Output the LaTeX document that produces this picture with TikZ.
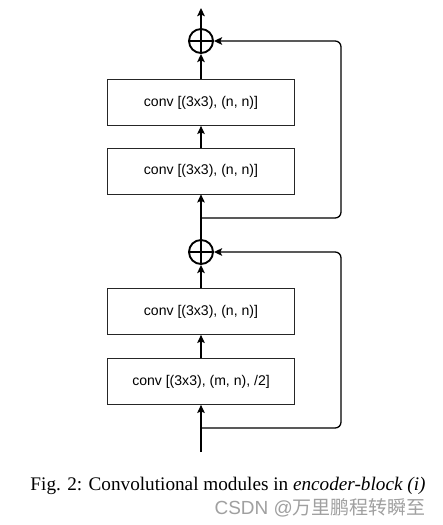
\documentclass[tikz,border=0pt]{standalone}
\usepackage{fontspec}
\setmainfont{Liberation Serif}
\setsansfont{Liberation Sans}
\newfontfamily\cjkfont{Noto Sans CJK SC}
\usepackage{tikz}
\usetikzlibrary{shapes, arrows.meta, positioning, backgrounds}
\definecolor{markgray}{RGB}{160,160,160}
\tikzstyle{block} = [rectangle, minimum width=5.61cm, minimum height=1.38cm, text centered, draw=black!85, line width=0.6pt, fill=white, font=\sffamily\fontsize{12}{14}\selectfont]
\tikzstyle{sum} = [circle, draw=black, line width=1.6pt, minimum size=0.72cm, inner sep=0pt]
\tikzstyle{arrow} = [-{Stealth[length=7pt,width=6.5pt,inset=1.5pt]}, line width=1.1pt]

\begin{document}
\begin{tikzpicture}[x=0.03cm, y=-0.03cm, background rectangle/.style={fill=white}, show background rectangle]

    \useasboundingbox (0,0) rectangle (442,525);

    \node (conv1) [block] at (201, 102.5) {conv [(3x3), (n, n)]};
    \node (conv2) [block] at (201, 171) {conv [(3x3), (n, n)]};
    \node (conv3) [block] at (201, 311.5) {conv [(3x3), (n, n)]};
    \node (conv4) [block] at (201, 381.5) {conv [(3x3), (m, n), /2]};

    \node (sum1) [sum] at (201, 41) {};
    \node (sum2) [sum] at (201, 252) {};
    \draw [line width=1.6pt] (sum1.north) -- (sum1.south) (sum1.west) -- (sum1.east);
    \draw [line width=1.6pt] (sum2.north) -- (sum2.south) (sum2.west) -- (sum2.east);

    \coordinate (out) at (201, 8);
    \coordinate (in) at (201, 452);
    \coordinate (skip1) at (201, 218);
    \coordinate (skip2) at (201, 428);

    \draw [arrow] (in) -- (conv4);
    \draw [arrow] (conv4) -- (conv3);
    \draw [arrow] (conv3) -- (sum2);
    \draw [arrow] (sum2) -- (conv2);
    \draw [arrow] (conv2) -- (conv1);
    \draw [arrow] (conv1) -- (sum1);
    \draw [arrow] (sum1) -- (out);

    \draw [arrow, rounded corners=5] (skip2) -- (341, 428) -- (341, 252) -- (sum2.east);
    \draw [arrow, rounded corners=5] (skip1) -- (341, 218) -- (341, 41) -- (sum1.east);

    \node (caption) [anchor=base, font=\fontsize{16.4}{19}\selectfont] at (228, 490) {Fig. 2: Convolutional modules in \textit{encoder-block (i)}};
    \node (mark) [anchor=base east, inner sep=0pt, text=markgray, font=\sffamily\fontsize{16.2}{18}\selectfont] at (426, 514) {CSDN @\cjkfont 万里鹏程转瞬至};

\end{tikzpicture}
\end{document}
